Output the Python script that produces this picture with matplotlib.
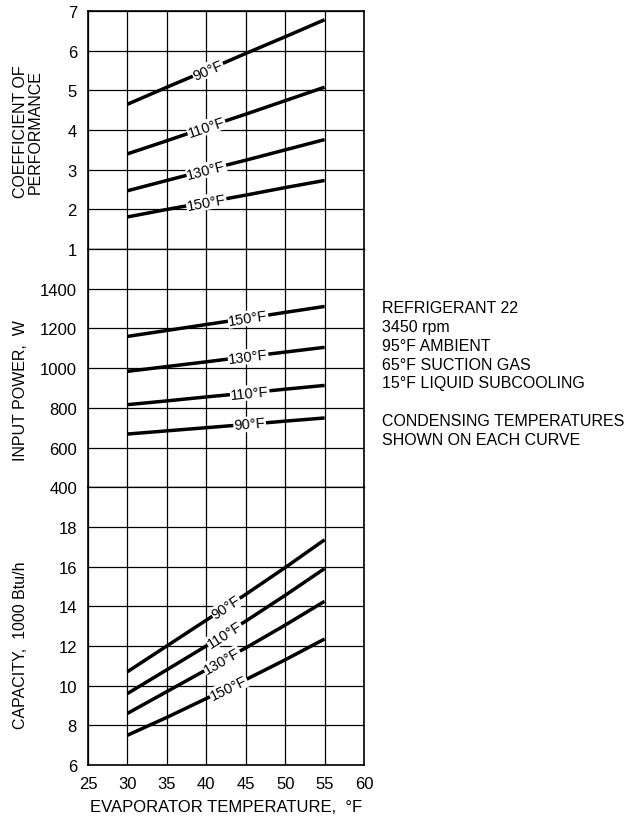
import numpy as np
import matplotlib
matplotlib.use('Agg')
import matplotlib.pyplot as plt

plt.rcParams['font.family'] = ['Liberation Sans', 'DejaVu Sans']

# evaporator temperature, F
evap = [30, 35, 40, 45, 50, 55]
cond_labels = ['90°F', '110°F', '130°F', '150°F']

# coefficient of performance for each condensing temperature
cop_90 = [4.65, 5.08, 5.50, 5.93, 6.35, 6.78]
cop_110 = [3.40, 3.73, 4.07, 4.40, 4.74, 5.08]
cop_130 = [2.47, 2.73, 2.99, 3.24, 3.50, 3.76]
cop_150 = [1.81, 2.00, 2.18, 2.36, 2.55, 2.73]

# input power, W
pow_90 = [668, 684, 700, 716, 733, 749]
pow_110 = [816, 835, 855, 874, 894, 913]
pow_130 = [984, 1008, 1032, 1057, 1081, 1105]
pow_150 = [1160, 1190, 1220, 1250, 1281, 1311]

# capacity, 1000 Btu/h
cap_90 = [10.7, 12.0, 13.3, 14.6, 15.95, 17.35]
cap_110 = [9.6, 10.8, 12.0, 13.25, 14.55, 15.9]
cap_130 = [8.6, 9.7, 10.8, 11.9, 13.05, 14.25]
cap_150 = [7.5, 8.4, 9.35, 10.3, 11.3, 12.35]

cop_ticks = [1, 2, 3, 4, 5, 6, 7]
pow_ticks = [400, 600, 800, 1000, 1200, 1400]
cap_ticks = [6, 8, 10, 12, 14, 16, 18]
x_ticks = [25, 30, 35, 40, 45, 50, 55, 60]

fig = plt.figure(figsize=(6.26, 8.2), dpi=100)
gs = fig.add_gridspec(3, 1, height_ratios=[6, 6, 7], hspace=0,
                      left=88/626, right=364/626, top=1-12/820, bottom=1-766/820)
ax_cop = fig.add_subplot(gs[0])
ax_pow = fig.add_subplot(gs[1], sharex=ax_cop)
ax_cap = fig.add_subplot(gs[2], sharex=ax_cop)

setup = [
    (ax_cop, (1, 7), cop_ticks, [cop_90, cop_110, cop_130, cop_150], [40.2, 40.0, 40.0, 40.0]),
    (ax_pow, (400, 1600), pow_ticks, [pow_90, pow_110, pow_130, pow_150], [45.5, 45.5, 45.3, 45.3]),
    (ax_cap, (6, 20), cap_ticks, [cap_90, cap_110, cap_130, cap_150], [42.5, 42.3, 42.0, 42.8]),
]

for ax, ylim, yt, series, lab_x in setup:
    ax.set_xlim(25, 60)
    ax.set_ylim(*ylim)
    ax.set_yticks(yt)
    ax.set_xticks(x_ticks)
    ax.tick_params(length=0, labelsize=12, pad=8)
    ax.grid(True, color='black', lw=0.9)
    ax.set_axisbelow(True)
    for sp in ax.spines.values():
        sp.set_linewidth(1.2)
    for vals, lab, lx in zip(series, cond_labels, lab_x):
        ax.plot(evap, vals, color='black', lw=2.5, solid_capstyle='butt', zorder=3)
        ly = np.interp(lx, evap, vals)
        p0 = ax.transData.transform((evap[0], vals[0]))
        p1 = ax.transData.transform((evap[-1], vals[-1]))
        ang = np.degrees(np.arctan2(p1[1] - p0[1], p1[0] - p0[0]))
        ax.text(lx, ly, lab, rotation=ang, rotation_mode='anchor', ha='center', va='center',
                fontsize=10.5, zorder=4,
                bbox=dict(facecolor='white', edgecolor='none', pad=0.5))

# inner boundaries look like ordinary grid lines
ax_cop.spines['bottom'].set_linewidth(0.9)
ax_pow.spines['top'].set_linewidth(0.9)
ax_pow.spines['bottom'].set_linewidth(0.9)
ax_cap.spines['top'].set_linewidth(0.9)

for ax in (ax_cop, ax_pow):
    ax.tick_params(labelbottom=False)

ax_cap.set_xlabel('EVAPORATOR TEMPERATURE,  °F', fontsize=12, labelpad=6)

fig.text(28/626, 1-132/820, 'COEFFICIENT OF\nPERFORMANCE', rotation=90, ha='center', va='center',
         fontsize=11.5, linespacing=0.95)
fig.text(21/626, 1-391/820, 'INPUT POWER,  W', rotation=90, ha='center', va='center', fontsize=11.5)
fig.text(21/626, 1-645/820, 'CAPACITY,  1000 Btu/h', rotation=90, ha='center', va='center', fontsize=11.5)

notes = ['REFRIGERANT 22', '3450 rpm', '95°F AMBIENT', '65°F SUCTION GAS',
         '15°F LIQUID SUBCOOLING', '', 'CONDENSING TEMPERATURES', 'SHOWN ON EACH CURVE']
fig.text(382/626, 1-301/820, '\n'.join(notes), ha='left', va='top', fontsize=11.5, linespacing=1.32)

fig.savefig('out.png', dpi=100)
